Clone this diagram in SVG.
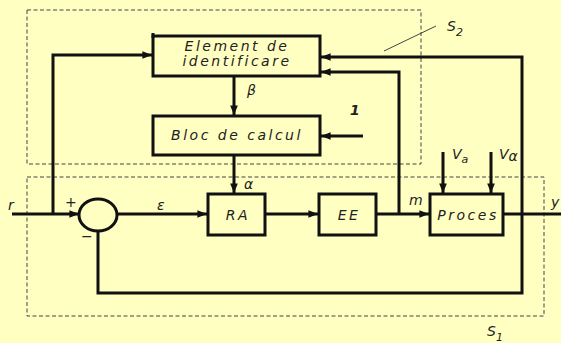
<svg xmlns="http://www.w3.org/2000/svg" width="561" height="343" viewBox="0 0 561 343">
<style>
.bg{fill:#FFFFC2}
.blk{fill:none;stroke:#111;stroke-width:3}
.ln{fill:none;stroke:#111;stroke-width:3;stroke-linejoin:miter}
.dash{fill:none;stroke:#444;stroke-width:1;stroke-dasharray:4,2.5}
.t{font-family:"DejaVu Sans","Liberation Sans",sans-serif;font-style:italic;font-size:14px;fill:#222;letter-spacing:2.5px}
.s{font-family:"DejaVu Sans","Liberation Sans",sans-serif;font-style:italic;font-size:14px;fill:#222}
</style>
<defs>
<marker id="ah" viewBox="0 0 10 8" refX="10" refY="4" markerWidth="3.2" markerHeight="2.6" orient="auto" markerUnits="strokeWidth">
<path d="M0,0 L10,4 L0,8 Z" fill="#111"/>
</marker>
</defs>
<rect class="bg" x="0" y="0" width="561" height="343"/>
<g id="S2">
<rect class="dash" x="27" y="10" width="394" height="154"/>
<line x1="384" y1="51" x2="436" y2="26" stroke="#444" stroke-width="1"/>
<text class="s" x="447" y="31" font-size="15">S<tspan font-size="11" dy="5">2</tspan></text>
</g>
<g id="S1">
<rect class="dash" x="27" y="177" width="517" height="139"/>
<text class="s" x="487" y="336" font-size="15">S<tspan font-size="11" dy="5">1</tspan></text>
</g>
<g id="connectors">
<path class="ln" d="M12,214 H79" marker-end="url(#ah)"/>
<path class="ln" d="M53,214 V55 H152" marker-end="url(#ah)"/>
<path class="ln" d="M117,214 H207" marker-end="url(#ah)"/>
<path class="ln" d="M265,214 H318" marker-end="url(#ah)"/>
<path class="ln" d="M376,214 H429" marker-end="url(#ah)"/>
<path class="ln" d="M399,214 V72 H321" marker-end="url(#ah)"/>
<path class="ln" d="M503,214 H561"/>
<path class="ln" d="M522,214 V57 H321" marker-end="url(#ah)"/>
<path class="ln" d="M522,214 V293 H98 V231"/>
<path class="ln" d="M234,76 V115" marker-end="url(#ah)"/>
<path class="ln" d="M234,155 V193" marker-end="url(#ah)"/>
<path class="ln" d="M363,136 H321" marker-end="url(#ah)"/>
<path class="ln" d="M443,152 V193" marker-end="url(#ah)"/>
<path class="ln" d="M491,152 V193" marker-end="url(#ah)"/>
</g>
<g id="sum">
<ellipse class="blk" cx="98" cy="215" rx="19" ry="16"/>
<text class="s" x="65" y="207">+</text>
<text class="s" x="81" y="241">−</text>
</g>
<g id="element">
<rect class="blk" x="153" y="36" width="167" height="40"/>
<line class="ln" x1="153" y1="33" x2="153" y2="38"/>
<text class="t" x="237" y="51" text-anchor="middle" font-size="13">Element de</text>
<text class="t" x="237" y="66" text-anchor="middle" font-size="13">identificare</text>
</g>
<g id="bloc">
<rect class="blk" x="153" y="116" width="167" height="39"/>
<text class="t" x="237" y="140" text-anchor="middle">Bloc de calcul</text>
</g>
<g id="RA">
<rect class="blk" x="208" y="194" width="57" height="41"/>
<text class="t" x="238" y="220" text-anchor="middle">RA</text>
</g>
<g id="EE">
<rect class="blk" x="319" y="194" width="57" height="41"/>
<text class="t" x="349" y="220" text-anchor="middle">EE</text>
</g>
<g id="proces">
<rect class="blk" x="430" y="194" width="73" height="41"/>
<text class="t" x="468" y="220" text-anchor="middle">Proces</text>
</g>
<g id="labels">
<text class="s" x="8" y="210">r</text>
<text class="s" x="157" y="210">ε</text>
<text class="s" x="247" y="95">β</text>
<text class="s" x="244" y="189">α</text>
<text class="s" x="350" y="115" font-size="9" font-weight="bold">1</text>
<text class="s" x="409" y="205">m</text>
<text class="s" x="551" y="207">y</text>
<text class="s" x="452" y="159">V<tspan font-size="11" dy="4">a</tspan></text>
<text class="s" x="499" y="159">V<tspan font-size="14" dy="2">α</tspan></text>
</g>
</svg>
